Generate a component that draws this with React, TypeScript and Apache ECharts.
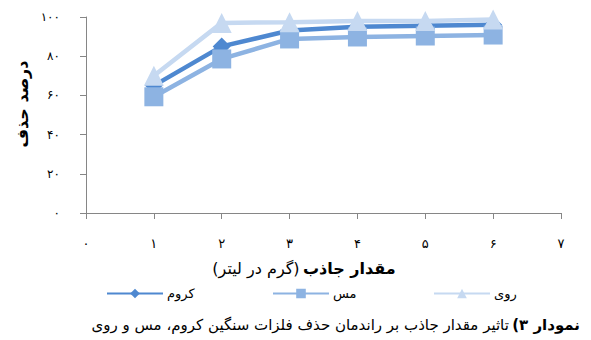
import React, { useEffect, useRef } from "react";
import * as echarts from "echarts";

const doseX = [1, 2, 3, 4, 5, 6];
const chromeRemoval = [65, 85, 93.1, 95, 95.5, 96];
const copperRemoval = [59.3, 78.6, 88.8, 89.8, 90.3, 90.8];
const zincRemoval = [70, 97, 97.3, 98, 98, 98.7];
const seriesNames = ["کروم", "مس", "روی"];
const seriesColors = ["#4e88d0", "#8db3e2", "#c6d9f1"];
const seriesSymbols = ["diamond", "rect", "triangle"];
const symbolSizes = [18, 19, 20];
const yAxisTitle = "درصد حذف";
const xTitleBold = "مقدار جاذب";
const xTitleRegular = "(گرم در لیتر)";
const captionBold = "(۳ نمودار";
const captionRegular = "تاثیر مقدار جاذب بر راندمان حذف فلزات سنگین کروم، مس و روی";

const FA_DIGITS = "۰۱۲۳۴۵۶۷۸۹";
const toFa = (v: number | string) => String(v).replace(/\d/g, (d) => FA_DIGITS[+d]);

const FONT = "DejaVu Sans";

export default function App() {
  const ref = useRef<HTMLDivElement>(null);
  useEffect(() => {
    if (!ref.current) return;
    const chart = echarts.init(ref.current, null, { renderer: "svg" });
    const seriesData = [chromeRemoval, copperRemoval, zincRemoval];
    const legendLefts = [101, 267, 428];
    chart.setOption({
      animation: false,
      textStyle: { fontFamily: FONT },
      grid: { left: 86, right: 30, top: 17, bottom: 127 },
      xAxis: {
        type: "value",
        min: 0,
        max: 7,
        interval: 1,
        axisLine: { show: true, lineStyle: { color: "#868686", width: 1 } },
        axisTick: { show: true, length: 6, lineStyle: { color: "#868686" } },
        splitLine: { show: false },
        axisLabel: {
          margin: 24,
          color: "#000",
          fontSize: 13,
          fontFamily: FONT,
          formatter: (v: number) => toFa(v),
        },
      },
      yAxis: {
        type: "value",
        min: 0,
        max: 100,
        interval: 20,
        axisLine: { show: true, lineStyle: { color: "#868686", width: 1 } },
        axisTick: { show: true, length: 6, lineStyle: { color: "#868686" } },
        splitLine: { show: false },
        axisLabel: {
          margin: 26,
          color: "#000",
          fontSize: 12,
          fontFamily: FONT,
          formatter: (v: number) => toFa(v),
        },
      },
      legend: seriesNames.map((n, i) => ({
        data: [n],
        left: legendLefts[i],
        top: 282,
        itemWidth: 56,
        itemHeight: 12,
        itemGap: 4,
        textStyle: { fontSize: 13, color: "#000", fontFamily: FONT, padding: [0, 0, 0, -1] },
      })),
      series: seriesNames.map((n, i) => ({
        name: n,
        type: "line",
        data: doseX.map((x, j) => [x, seriesData[i][j]]),
        symbol: seriesSymbols[i],
        symbolSize: symbolSizes[i],
        showSymbol: true,
        lineStyle: { color: seriesColors[i], width: 4.5 },
        itemStyle: { color: seriesColors[i], borderWidth: 0 },
        z: 2 + i,
      })),
      graphic: [
        {
          type: "text",
          x: 22,
          y: 104,
          rotation: Math.PI / 2,
          style: {
            text: yAxisTitle,
            font: `bold 16px ${FONT}`,
            fill: "#000",
            textAlign: "center",
            textVerticalAlign: "middle",
          },
        },
        {
          type: "text",
          x: 304,
          y: 268,
          style: {
            text: `{r|${xTitleRegular}} {b|${xTitleBold}}`,
            textAlign: "center",
            textVerticalAlign: "middle",
            rich: {
              r: { fontSize: 16, fontFamily: FONT, fill: "#000" },
              b: { fontSize: 16, fontWeight: "bold", fontFamily: FONT, fill: "#000" },
            },
          },
        },
        {
          type: "text",
          x: 580,
          y: 325,
          style: {
            text: `{r|${captionRegular}} {b|${captionBold}}`,
            textAlign: "right",
            textVerticalAlign: "middle",
            rich: {
              r: { fontSize: 15, fontFamily: FONT, fill: "#000" },
              b: { fontSize: 15, fontWeight: "bold", fontFamily: FONT, fill: "#000" },
            },
          },
        },
      ],
    });
    return () => chart.dispose();
  }, []);
  return (
    <div
      ref={ref}
      style={{ position: "absolute", left: 0, top: 0, width: 591, height: 340 }}
    />
  );
}
